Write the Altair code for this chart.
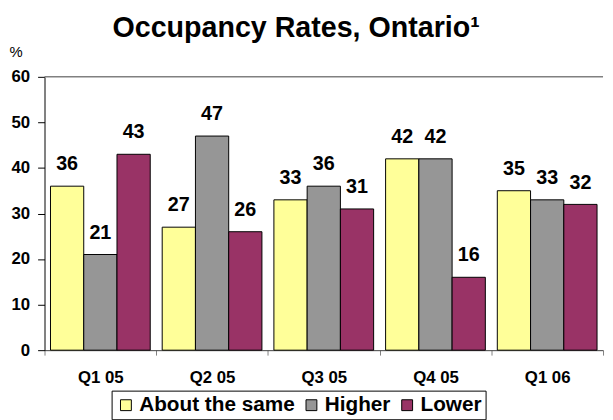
import altair as alt
import pandas as pd

quarters = ["Q1 05", "Q2 05", "Q3 05", "Q4 05", "Q1 06"]
series = ["About the same", "Higher", "Lower"]
about_same = [36, 27, 33, 42, 35]
higher = [21, 47, 36, 42, 33]
lower = [43, 26, 31, 16, 32]
colors = ["#FFFF99", "#969696", "#993366"]
y_ticks = [0, 10, 20, 30, 40, 50, 60]

rows = []
for s, vals in zip(series, [about_same, higher, lower]):
    for q, v in zip(quarters, vals):
        rows.append({"quarter": q, "series": s, "value": v})
df = pd.DataFrame(rows)

FONT = "Liberation Sans"
W, H = 566, 277

base = alt.Chart(df).encode(
    x=alt.X(
        "quarter:N",
        sort=quarters,
        scale=alt.Scale(paddingInner=0, paddingOuter=0),
        axis=alt.Axis(
            title=None,
            labelAngle=0,
            labelFont=FONT,
            labelFontSize=17,
            labelFontWeight="bold",
            labelColor="black",
            labelPadding=15,
            tickBand="extent",
            tickSize=5,
            tickColor="#808080",
            domainColor="#404040",
        ),
    ),
    xOffset=alt.XOffset(
        "series:N", sort=series, scale=alt.Scale(paddingInner=0, paddingOuter=0.18)
    ),
    y=alt.Y(
        "value:Q",
        scale=alt.Scale(domain=[0, 60], nice=False),
        axis=alt.Axis(
            values=y_ticks,
            title="%",
            titleAngle=0,
            titleX=-36,
            titleY=-18,
            titleAlign="left",
            titleBaseline="bottom",
            titleFont=FONT,
            titleFontSize=15,
            titleFontWeight="normal",
            titleColor="black",
            labelFont=FONT,
            labelFontSize=17,
            labelFontWeight="bold",
            labelColor="black",
            labelPadding=8,
            tickSize=7,
            tickColor="black",
            domainColor="black",
            grid=False,
        ),
    ),
)

bars = base.mark_bar(stroke="black", strokeWidth=1).encode(
    color=alt.Color(
        "series:N",
        sort=series,
        scale=alt.Scale(domain=series, range=colors),
        legend=alt.Legend(
            title=None,
            orient="none",
            legendX=68,
            legendY=318,
            direction="horizontal",
            strokeColor="black",
            fillColor="white",
            padding=4,
            symbolType="square",
            symbolSize=121,
            symbolStrokeColor="black",
            symbolStrokeWidth=1,
            symbolOpacity=1,
            labelFont=FONT,
            labelFontSize=21,
            labelFontWeight="bold",
            labelColor="black",
            labelOffset=3,
            labelLimit=300,
            columnPadding=6,
        ),
    )
)

labels = base.mark_text(
    baseline="bottom", dy=-12, font=FONT, fontSize=20, fontWeight="bold", color="black"
).encode(text="value:Q")

top_line = alt.Chart(pd.DataFrame({"v": [60]})).mark_rule(color="#808080", strokeWidth=1.5).encode(
    y=alt.Y("v:Q"), x=alt.value(0), x2=alt.value(W)
)

chart = (
    alt.layer(top_line, bars, labels)
    .properties(
        width=W,
        height=H,
        autosize=alt.AutoSizeParams(type="none"),
        padding={"left": 37, "top": 67, "right": 2, "bottom": 68},
        title=alt.TitleParams(
            "Occupancy Rates, Ontario\u00b9",
            font=FONT,
            fontSize=29,
            fontWeight="bold",
            color="black",
            anchor="middle",
            dx=-28,
            offset=1,
        ),
    )
    .configure_view(stroke=None)
)

chart.save("out.html", embed_options={"renderer": "svg", "actions": False})
